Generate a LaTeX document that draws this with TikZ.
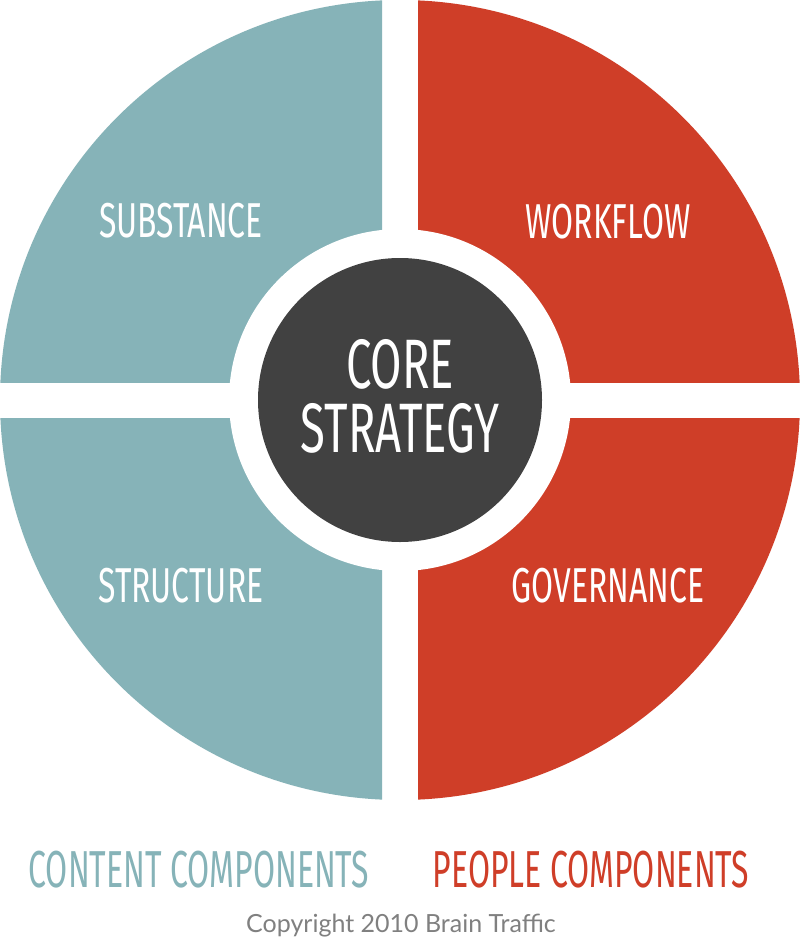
\documentclass[tikz,border=0pt]{standalone}
\usepackage{fontspec}
\newfontfamily\condfont[FakeStretch=0.65]{Fira Sans}
\newfontfamily\legendfont[FakeStretch=0.615]{Fira Sans}
\newfontfamily\copyfont{Lato}
\definecolor{teal}{RGB}{134,179,184}
\definecolor{brick}{RGB}{207,62,40}
\definecolor{core}{RGB}{65,65,65}
\definecolor{copygray}{RGB}{128,128,128}
\tikzset{
  quad label/.style={text=white, inner sep=0pt, anchor=base, font=\condfont\fontsize{49}{49}\selectfont},
  core label/.style={text=white, inner sep=0pt, anchor=base, font=\condfont\fontsize{70}{70}\selectfont},
  legend label/.style={inner sep=0pt, anchor=base, font=\legendfont\fontsize{52}{52}\selectfont},
}
\begin{document}
\begin{tikzpicture}[x=1pt,y=-1pt]
\useasboundingbox (0,0) rectangle (800,937);
\fill[white] (0,0) rectangle (800,937);
% quadrants
\begin{scope}
  \clip (0,0) rectangle (382,382);
  \fill[teal] (400,400) circle[radius=400];
\end{scope}
\begin{scope}
  \clip (418,0) rectangle (800,382);
  \fill[brick] (400,400) circle[radius=400];
\end{scope}
\begin{scope}
  \clip (0,418) rectangle (382,800);
  \fill[teal] (400,400) circle[radius=400];
\end{scope}
\begin{scope}
  \clip (418,418) rectangle (800,800);
  \fill[brick] (400,400) circle[radius=400];
\end{scope}
\node[circle, fill=white, minimum size=342pt, inner sep=0pt] (ring) at (400,400) {};
\node[circle, fill=core, minimum size=284pt, inner sep=0pt] (hub) at (400,400) {};
\node[core label] (coretxt) at (400,388) {CORE};
\node[core label] (strattxt) at (400,452) {STRATEGY};
\node[quad label] (substance) at (181,237) {SUBSTANCE};
\node[quad label] (workflow) at (608,238) {WORKFLOW};
\node[quad label] (structure) at (181,602) {STRUCTURE};
\node[quad label] (governance) at (608,602) {GOVERNANCE};
\node[legend label, text=teal] (content) at (199,887) {CONTENT COMPONENTS};
\node[legend label, text=brick] (people) at (591,887) {PEOPLE COMPONENTS};
\node[inner sep=0pt, anchor=base, text=copygray, font=\copyfont\fontsize{25}{25}\selectfont] (copy) at (401,932) {Copyright 2010 Brain Traffic};
\end{tikzpicture}
\end{document}
